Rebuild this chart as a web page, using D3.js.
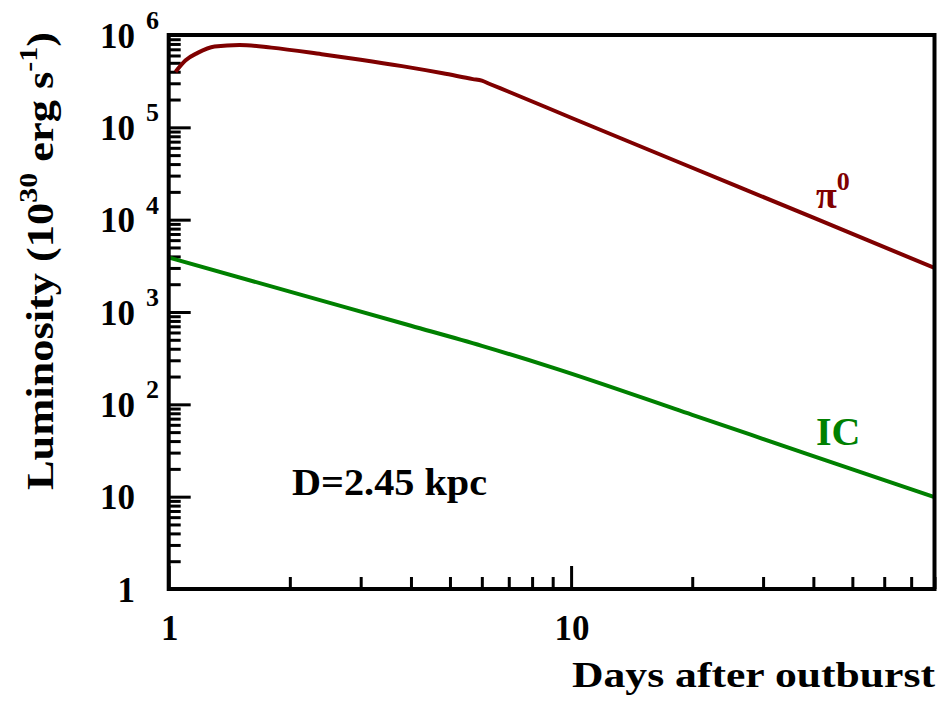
<!DOCTYPE html>
<html>
<head>
<meta charset="utf-8">
<script src="https://cdn.jsdelivr.net/npm/d3@7"></script>
<style>
  html, body { margin: 0; padding: 0; background: #fff; }
  svg { display: block; }
  text { font-family: "Liberation Serif", "Times New Roman", Times, serif; font-weight: bold; fill: #000; }
</style>
</head>
<body>
<svg id="chart" width="941" height="705"></svg>
<script>
// Light curves: luminosity (units of 1e30 erg/s) versus days after outburst
const piDays = [1.04, 1.1, 1.18, 1.3, 1.5, 1.8, 2.4, 3, 3.8, 4.8, 5.7, 6, 6.3, 7, 10, 20, 40, 80];
const piLum  = [4.0e5, 5.3e5, 6.4e5, 7.5e5, 7.8e5, 7.3e5, 6.2e5, 5.4e5, 4.6e5, 3.85e5, 3.33e5, 3.2e5, 2.93e5, 2.43e5, 1.27e5, 3.65e4, 1.05e4, 3.0e3];

const icDays = [1, 2, 4, 6, 9, 20, 40, 80];
const icLum  = [3900, 1660, 710, 430, 250, 77, 27.5, 9.9];

const xMajorTicks = [1, 10];
const xMinorTicks = [2, 3, 4, 5, 6, 7, 8, 9, 20, 30, 40, 50, 60, 70, 80];
const yExponents  = [0, 1, 2, 3, 4, 5, 6];

const svg = d3.select("#chart");
const plotL = 168.7, plotR = 934.5, plotT = 35, plotB = 589;

const x = d3.scaleLog().domain([1, 80]).range([plotL, plotR]);
const y = d3.scaleLog().domain([1, 1e6]).range([plotB, plotT]);

// minor y ticks: 2..9 in every decade
const yMinorTicks = [];
for (let e = 0; e < 6; e++) for (let m = 2; m <= 9; m++) yMinorTicks.push(m * Math.pow(10, e));
const yMajorTicks = yExponents.map(e => Math.pow(10, e));

const tickStyle = g => {
  g.select(".domain").remove();
  g.selectAll(".tick line").attr("stroke", "#000").attr("stroke-width", 3);
  g.selectAll(".tick text").remove();
};

// left axis ticks (pointing inward)
svg.append("g").attr("transform", `translate(${plotL},0)`)
  .call(d3.axisLeft(y).tickValues(yMinorTicks).tickSize(-12).tickFormat(""))
  .call(tickStyle);
svg.append("g").attr("transform", `translate(${plotL},0)`)
  .call(d3.axisLeft(y).tickValues(yMajorTicks).tickSize(-22).tickFormat(""))
  .call(tickStyle);

// bottom axis ticks (pointing inward)
svg.append("g").attr("transform", `translate(0,${plotB})`)
  .call(d3.axisBottom(x).tickValues(xMinorTicks).tickSize(-12).tickFormat(""))
  .call(tickStyle);
svg.append("g").attr("transform", `translate(0,${plotB})`)
  .call(d3.axisBottom(x).tickValues(xMajorTicks).tickSize(-23).tickFormat(""))
  .call(tickStyle);

// clip curves to the frame
svg.append("defs").append("clipPath").attr("id", "plot")
  .append("rect").attr("x", plotL).attr("y", plotT).attr("width", plotR - plotL).attr("height", plotB - plotT);

const line = d3.line().x(d => x(d[0])).y(d => y(d[1])).curve(d3.curveMonotoneX);

svg.append("path")
  .datum(piDays.map((d, i) => [d, piLum[i]]))
  .attr("clip-path", "url(#plot)")
  .attr("d", line).attr("fill", "none")
  .attr("stroke", "#7f0000").attr("stroke-width", 4).attr("stroke-linejoin", "round");

svg.append("path")
  .datum(icDays.map((d, i) => [d, icLum[i]]))
  .attr("clip-path", "url(#plot)")
  .attr("d", line).attr("fill", "none")
  .attr("stroke", "#008000").attr("stroke-width", 4).attr("stroke-linejoin", "round");

// frame
svg.append("rect")
  .attr("x", plotL).attr("y", plotT).attr("width", plotR - plotL).attr("height", plotB - plotT)
  .attr("fill", "none").attr("stroke", "#000").attr("stroke-width", 4);

// y tick labels: 1, 10, then 10 with exponent
yExponents.forEach(e => {
  const v = Math.pow(10, e);
  const yy = y(v);
  const base = e === 0 ? "1" : "10";
  svg.append("text").attr("x", 135).attr("y", yy + 12.5)
    .attr("text-anchor", "end").attr("font-size", 35).text(base);
  if (e >= 2) {
    svg.append("text").attr("x", 146).attr("y", yy - 6)
      .attr("font-size", 26).text(e);
  }
});

// x tick labels
xMajorTicks.forEach(v => {
  svg.append("text").attr("x", x(v) + 1).attr("y", 640)
    .attr("text-anchor", "middle").attr("font-size", 35).text(v);
});

// axis titles
svg.append("text").attr("x", 935).attr("y", 687)
  .attr("text-anchor", "end").attr("font-size", 36)
  .attr("textLength", 363).attr("lengthAdjust", "spacingAndGlyphs")
  .text("Days after outburst");

const yt = svg.append("text")
  .attr("transform", "translate(53,261) rotate(-90)")
  .attr("text-anchor", "middle").attr("font-size", 37)
  .attr("textLength", 458).attr("lengthAdjust", "spacingAndGlyphs");
yt.append("tspan").text("Luminosity (10");
yt.append("tspan").attr("font-size", 25).attr("dy", -16).text("30");
yt.append("tspan").attr("dy", 16).text(" erg s");
yt.append("tspan").attr("font-size", 25).attr("dy", -16).text("-1");
yt.append("tspan").attr("dy", 16).text(")");

// annotations
svg.append("text").attr("x", 292).attr("y", 495).attr("font-size", 38)
  .attr("textLength", 195).attr("lengthAdjust", "spacingAndGlyphs")
  .text("D=2.45 kpc");

const pi = svg.append("text").attr("x", 816).attr("y", 208).attr("font-size", 38).style("fill", "#7f0000");
pi.append("tspan").text("π");
pi.append("tspan").attr("font-size", 26).attr("dy", -18).text("0");

svg.append("text").attr("x", 816).attr("y", 445).attr("font-size", 40)
  .style("fill", "#008000").text("IC");
</script>
</body>
</html>
